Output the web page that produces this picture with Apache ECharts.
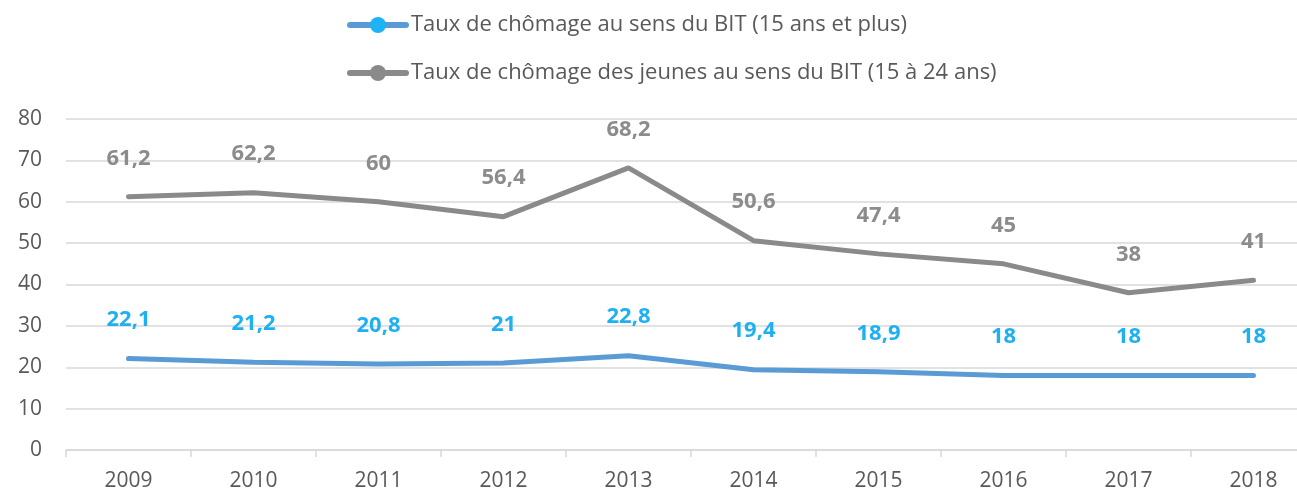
<!DOCTYPE html>
<html>
<head>
<meta charset="utf-8">
<script src="https://cdn.jsdelivr.net/npm/echarts@6/dist/echarts.min.js"></script>
<style>
  html, body { margin: 0; padding: 0; background: #fff; }
  #chart { width: 1297px; height: 495px; }
</style>
</head>
<body>
<div id="chart"></div>
<script>
var years = ['2009', '2010', '2011', '2012', '2013', '2014', '2015', '2016', '2017', '2018'];
var tauxBIT = [22.1, 21.2, 20.8, 21, 22.8, 19.4, 18.9, 18, 18, 18];
var tauxJeunes = [61.2, 62.2, 60, 56.4, 68.2, 50.6, 47.4, 45, 38, 41];
var nomBIT = 'Taux de chômage au sens du BIT (15 ans et plus)';
var nomJeunes = 'Taux de chômage des jeunes au sens du BIT (15 à 24 ans)';

var police = '"Open Sans", "Noto Sans", sans-serif';

function virgule(p) {
  return String(p.value).replace('.', ',');
}

var myChart = echarts.init(document.getElementById('chart'));
var option = {
  animation: false,
  textStyle: { fontFamily: police },
  legend: {
    orient: 'vertical',
    left: 342,
    top: 9,
    itemGap: 26,
    itemWidth: 56,
    itemHeight: 20,
    textStyle: { fontSize: 22, color: '#595959', fontFamily: police },
    data: [
      { name: nomBIT, itemStyle: { color: '#1cb4f5' }, lineStyle: { color: '#5b9bd5', width: 6 } },
      { name: nomJeunes, itemStyle: { color: '#8a8a8a' }, lineStyle: { color: '#8a8a8a', width: 6 } }
    ]
  },
  // la dernière catégorie déborde à droite de l'image, comme sur l'original
  grid: { left: 66, right: -19, top: 119, bottom: 45, outerBoundsMode: 'none' },
  xAxis: {
    type: 'category',
    data: years,
    boundaryGap: true,
    axisLine: { lineStyle: { color: '#d9d9d9', width: 1.5 } },
    axisTick: { show: true, length: 7, lineStyle: { color: '#d9d9d9', width: 1.5 } },
    axisLabel: { fontSize: 21, color: '#595959', margin: 21, fontFamily: police }
  },
  yAxis: {
    type: 'value',
    min: 0,
    max: 80,
    interval: 10,
    axisLine: { show: false },
    axisTick: { show: false },
    axisLabel: { fontSize: 21, color: '#595959', margin: 24, fontFamily: police },
    splitLine: { lineStyle: { color: '#d9d9d9', width: 1.5 } }
  },
  series: [
    {
      name: nomBIT,
      type: 'line',
      data: tauxBIT,
      symbol: 'circle',
      symbolSize: 1,
      itemStyle: { color: '#5b9bd5' },
      lineStyle: { color: '#5b9bd5', width: 5, cap: 'round' },
      label: {
        show: true, position: 'top', distance: 27,
        fontSize: 22, fontWeight: 'bold', color: '#1fb0f2',
        fontFamily: police, formatter: virgule
      }
    },
    {
      name: nomJeunes,
      type: 'line',
      data: tauxJeunes,
      symbol: 'circle',
      symbolSize: 1,
      itemStyle: { color: '#8a8a8a' },
      lineStyle: { color: '#8a8a8a', width: 5, cap: 'round' },
      label: {
        show: true, position: 'top', distance: 27,
        fontSize: 22, fontWeight: 'bold', color: '#8c8c8c',
        fontFamily: police, formatter: virgule
      }
    }
  ]
};
myChart.setOption(option);
window.onresize = myChart.resize;
</script>
</body>
</html>
